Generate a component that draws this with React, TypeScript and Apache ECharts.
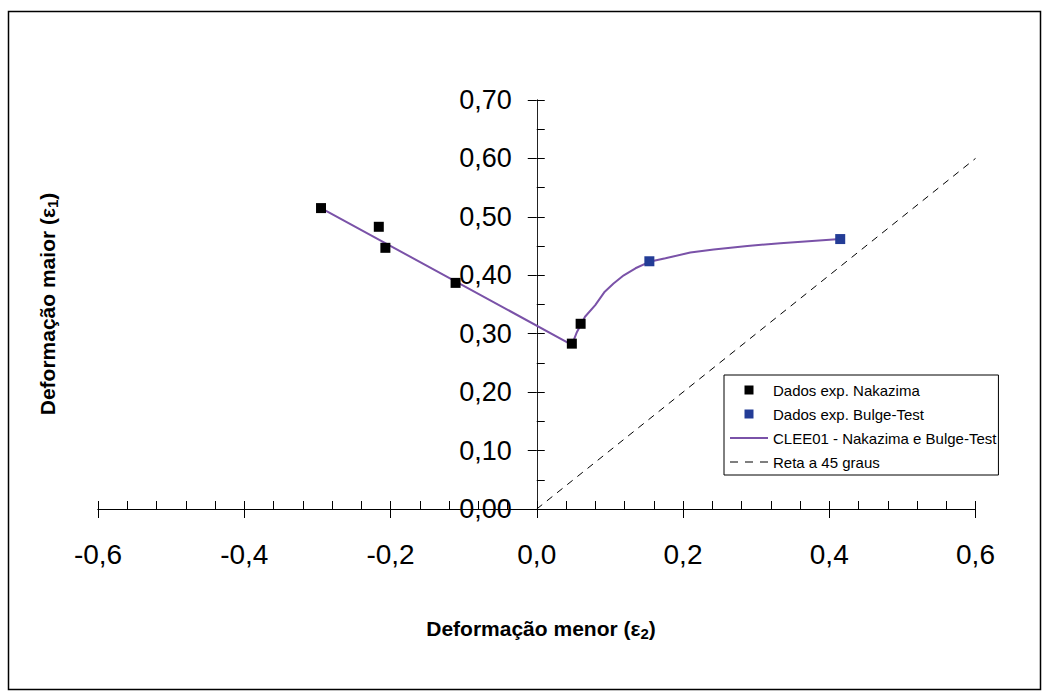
import React, { useEffect, useRef } from "react";
import * as echarts from "echarts";

const FONT = "'Liberation Sans', Arial, sans-serif";

// Dados exp. Nakazima
const nakazimaX = [-0.295, -0.216, -0.207, -0.111, 0.048, 0.06];
const nakazimaY = [0.515, 0.483, 0.447, 0.387, 0.283, 0.317];
// Dados exp. Bulge-Test
const bulgeX = [0.154, 0.415];
const bulgeY = [0.424, 0.462];
// CLEE01 - Nakazima e Bulge-Test
const cleeX = [-0.295, 0.048, 0.055, 0.066, 0.08, 0.093, 0.105, 0.119, 0.135, 0.154, 0.176, 0.21, 0.242, 0.288, 0.333, 0.415];
const cleeY = [0.515, 0.281, 0.303, 0.329, 0.349, 0.372, 0.386, 0.4, 0.412, 0.423, 0.429, 0.439, 0.444, 0.45, 0.455, 0.462];
// Reta a 45 graus
const refX = [0, 0.6];
const refY = [0, 0.6];

const seriesNames = [
  "Dados exp. Nakazima",
  "Dados exp. Bulge-Test",
  "CLEE01 - Nakazima e Bulge-Test",
  "Reta a 45 graus",
];

const zip = (xs: number[], ys: number[]) => xs.map((x, i) => [x, ys[i]]);

const fmtX = (v: number) => (Math.abs(v) < 1e-9 ? "0,0" : v.toFixed(1).replace(".", ","));
const fmtY = (v: number) => (Math.abs(v) < 1e-9 ? "0,00" : v.toFixed(2).replace(".", ","));

const SQUARE_ICON = "path://M0,0L10,0L10,10L0,10Z";
const LINE_ICON = "path://M0,0h38v2h-38z";
const DASH_ICON = "path://M0,0h8v1h-8z M15,0h8v1h-8z M30,0h8v1h-8z";

const GRID_LEFT = 98;
const GRID_RIGHT = 68.5;
const GRID_W = 1044 - GRID_LEFT - GRID_RIGHT;
// the vertical axis crosses at x = 0, which is the middle of the x range
const Y_AXIS_OFFSET = -GRID_W / 2;

export default function App() {
  const ref = useRef<HTMLDivElement>(null);
  useEffect(() => {
    if (!ref.current) return;
    const chart = echarts.init(ref.current, undefined, { renderer: "svg" });
    const baseX = {
      type: "value" as const,
      min: -0.6,
      max: 0.6,
      interval: 0.2,
      position: "bottom" as const,
      splitLine: { show: false },
      axisLine: { show: true, lineStyle: { color: "#000", width: 1 } },
    };
    const baseY = {
      type: "value" as const,
      min: 0,
      max: 0.7,
      interval: 0.1,
      position: "left" as const,
      offset: Y_AXIS_OFFSET,
      splitLine: { show: false },
      axisLine: { show: true, onZero: false, lineStyle: { color: "#222", width: 1 } },
    };
    const titleRich = {
      b: { fontSize: 21, fontWeight: "bold", fontFamily: FONT, lineHeight: 26, verticalAlign: "middle", fill: "#000" },
      s: { fontSize: 15, fontWeight: "bold", fontFamily: FONT, lineHeight: 15, verticalAlign: "bottom", fill: "#000" },
    };
    chart.setOption({
      animation: false,
      backgroundColor: "#fff",
      textStyle: { fontFamily: FONT },
      grid: { left: GRID_LEFT, right: GRID_RIGHT, top: 100, bottom: 191, containLabel: false },
      xAxis: [
        {
          ...baseX,
          axisTick: { show: true, inside: true, length: 8, lineStyle: { color: "#000" } },
          minorTick: { show: true, splitNumber: 5, length: 8, lineStyle: { color: "#000" } },
          axisLabel: {
            show: true,
            formatter: fmtX,
            fontSize: 28,
            color: "#000",
            fontFamily: FONT,
            margin: 31,
            showMinLabel: true,
            showMaxLabel: true,
          },
        },
        {
          ...baseX,
          axisTick: { show: true, inside: false, length: 9, lineStyle: { color: "#000" } },
          axisLabel: { show: false },
        },
      ],
      yAxis: [
        {
          ...baseY,
          axisTick: { show: true, inside: true, length: 8, lineStyle: { color: "#000" } },
          minorTick: { show: true, splitNumber: 2, length: 8, lineStyle: { color: "#000" } },
          axisLabel: {
            show: true,
            formatter: fmtY,
            fontSize: 27,
            color: "#000",
            fontFamily: FONT,
            margin: 25,
            showMinLabel: true,
            showMaxLabel: true,
          },
        },
        {
          ...baseY,
          axisTick: { show: true, inside: false, length: 9, lineStyle: { color: "#000" } },
          axisLabel: { show: false },
        },
      ],
      legend: {
        orient: "vertical",
        left: 724,
        top: 375,
        backgroundColor: "#fff",
        borderColor: "#000",
        borderWidth: 1,
        padding: [7, 2, 5, 6],
        itemWidth: 38,
        itemHeight: 9,
        itemGap: 8,
        symbolKeepAspect: true,
        textStyle: { fontSize: 15, lineHeight: 16, color: "#000", fontFamily: FONT },
        data: [
          { name: seriesNames[0], icon: SQUARE_ICON },
          { name: seriesNames[1], icon: SQUARE_ICON },
          { name: seriesNames[2], icon: LINE_ICON },
          { name: seriesNames[3], icon: DASH_ICON },
        ],
      },
      graphic: [
        {
          type: "rect",
          shape: { x: 8.5, y: 11.5, width: 1032, height: 678 },
          style: { fill: "none", stroke: "#000", lineWidth: 1.5 },
          silent: true,
          z: -1,
        },
        {
          type: "text",
          x: 47,
          y: 304,
          rotation: Math.PI / 2,
          style: {
            text: "{b|Deformação maior (ε}{s|1}{b|)}",
            align: "center",
            verticalAlign: "middle",
            fill: "#000",
            rich: titleRich,
          },
        },
        {
          type: "text",
          x: 541,
          y: 628,
          style: {
            text: "{b|Deformação menor (ε}{s|2}{b|)}",
            align: "center",
            verticalAlign: "middle",
            fill: "#000",
            rich: titleRich,
          },
        },
      ],
      series: [
        {
          name: seriesNames[3],
          type: "line",
          data: zip(refX, refY),
          symbol: "none",
          lineStyle: { color: "#000", width: 1, type: [7, 6] },
          itemStyle: { color: "#000" },
          z: 2,
        },
        {
          name: seriesNames[2],
          type: "line",
          data: zip(cleeX, cleeY),
          symbol: "none",
          lineStyle: { color: "#7a52a8", width: 2 },
          itemStyle: { color: "#7a52a8" },
          z: 3,
        },
        {
          name: seriesNames[0],
          type: "scatter",
          data: zip(nakazimaX, nakazimaY),
          symbol: "rect",
          symbolSize: 10,
          itemStyle: { color: "#000", opacity: 1 },
          z: 4,
        },
        {
          name: seriesNames[1],
          type: "scatter",
          data: zip(bulgeX, bulgeY),
          symbol: "rect",
          symbolSize: 10,
          itemStyle: { color: "#233c96", opacity: 1 },
          z: 4,
        },
      ],
    });
    return () => chart.dispose();
  }, []);
  return (
    <div
      ref={ref}
      style={{ position: "absolute", left: 0, top: 0, width: 1044, height: 700 }}
    />
  );
}
